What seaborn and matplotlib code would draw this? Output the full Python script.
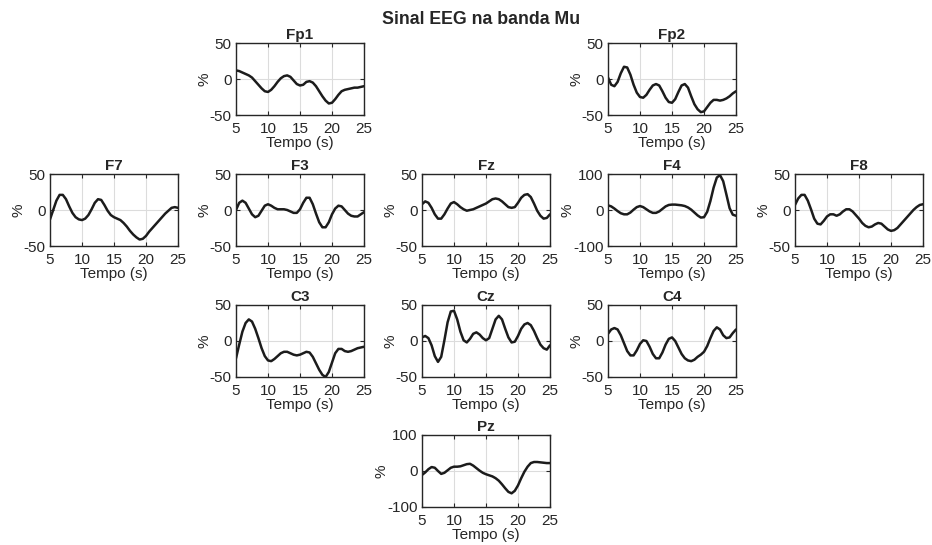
import numpy as np
import pandas as pd
import matplotlib
matplotlib.use("Agg")
import matplotlib.pyplot as plt
import seaborn as sns

# tempo (s), amostras a cada 0.5 s
tempo = np.arange(5.0, 25.01, 0.5)

fp1 = [12, 11, 9, 7, 5, 2, -3, -8, -13, -17, -18, -15, -10, -4, 1, 4, 5, 3, -2, -7, -9,
       -8, -4, -3, -5, -10, -17, -24, -30, -34, -33, -28, -22, -17, -15, -14, -13, -12, -12, -11, -10]
fp2 = [2, -8, -10, -4, 8, 17, 16, 6, -8, -19, -25, -26, -22, -15, -9, -7, -9, -17, -26, -32, -33,
       -28, -18, -9, -7, -12, -24, -35, -42, -46, -45, -39, -33, -29, -29, -30, -29, -27, -24, -20, -17]
f7 = [-13, 0, 13, 21, 21, 15, 5, -4, -10, -13, -14, -12, -7, 1, 10, 15, 14, 7, -1, -7, -10,
      -12, -14, -18, -23, -29, -34, -38, -41, -40, -36, -30, -25, -20, -15, -10, -5, -1, 3, 4, 3]
f3 = [0, 10, 13, 10, 2, -6, -10, -8, -1, 6, 8, 6, 3, 1, 1, 1, 0, -2, -4, -4, 1,
      10, 17, 17, 8, -5, -17, -24, -24, -17, -6, 2, 6, 5, 0, -5, -8, -9, -9, -6, -3]
fz = [8, 12, 10, 3, -6, -12, -12, -6, 2, 9, 11, 8, 4, 1, -1, 0, 1, 3, 5, 7, 9,
      12, 15, 16, 15, 12, 8, 4, 3, 4, 10, 17, 21, 22, 18, 9, -1, -8, -12, -11, -6]
f4 = [13, 10, 4, -3, -9, -12, -12, -7, 1, 8, 11, 8, 2, -4, -8, -8, -4, 3, 10, 14, 15,
      15, 14, 13, 11, 7, 1, -7, -15, -21, -20, -5, 25, 62, 90, 97, 80, 43, 5, -13, -16]
f8 = [7, 16, 21, 21, 13, 1, -12, -19, -20, -15, -9, -6, -6, -8, -6, -2, 1, 1, -2, -7, -12,
      -18, -22, -24, -23, -20, -18, -19, -23, -27, -29, -28, -25, -20, -15, -10, -5, 0, 4, 7, 8]
c3 = [-24, -5, 13, 25, 30, 27, 17, 4, -10, -21, -27, -28, -25, -21, -17, -15, -15, -17, -19, -20, -19,
      -17, -15, -16, -22, -31, -40, -47, -50, -43, -30, -17, -11, -11, -14, -15, -14, -12, -10, -9, -8]
cz = [5, 7, 4, -6, -21, -29, -22, 1, 26, 41, 42, 30, 13, 1, -2, 3, 10, 12, 9, 4, 1,
      4, 17, 30, 35, 30, 17, 5, -2, -1, 7, 17, 23, 25, 22, 14, 4, -5, -10, -12, -6]
c4 = [10, 16, 18, 16, 8, -3, -14, -20, -20, -13, -4, 1, 0, -8, -18, -24, -24, -16, -5, 3, 5,
      0, -9, -18, -24, -27, -28, -26, -22, -19, -15, -7, 4, 14, 19, 16, 8, 4, 5, 11, 16]
pz = [-11, -4, 5, 11, 9, 0, -8, -5, 2, 9, 12, 12, 13, 16, 19, 20, 15, 8, 1, -5, -9,
      -12, -15, -20, -27, -37, -48, -58, -62, -55, -40, -20, -2, 12, 22, 25, 25, 24, 23, 22, 22]

canais = ["Fp1", "Fp2", "F7", "F3", "Fz", "F4", "F8", "C3", "Cz", "C4", "Pz"]
sinais = [fp1, fp2, f7, f3, fz, f4, f8, c3, cz, c4, pz]
limites = [50, 50, 50, 50, 50, 100, 50, 50, 50, 50, 100]
# posicao no mapa (linha, coluna)
grade = [(0, 1), (0, 3), (1, 0), (1, 1), (1, 2), (1, 3), (1, 4), (2, 1), (2, 2), (2, 3), (3, 2)]

sns.set_theme(style="white")
plt.rcParams["font.family"] = ["Liberation Sans", "DejaVu Sans"]
plt.rcParams["axes.unicode_minus"] = False
plt.rcParams["xtick.direction"] = "in"
plt.rcParams["ytick.direction"] = "in"

fig = plt.figure(figsize=(9.32, 5.45), dpi=100)

lefts = [50, 236, 422, 608, 795]
tops = [43, 174, 305, 435]
w, h = 128, 72
cinza = "#262626"

for nome, y, lim, (lin, col) in zip(canais, sinais, limites, grade):
    ax = fig.add_axes([lefts[col] / 932, 1 - (tops[lin] + h) / 545, w / 932, h / 545])
    df = pd.DataFrame({"t": tempo, "v": y})
    sns.lineplot(data=df, x="t", y="v", ax=ax, color="#1c1c1c", linewidth=1.8)
    ax.set_xlim(5, 25)
    ax.set_ylim(-lim, lim)
    ax.set_xticks([5, 10, 15, 20, 25])
    ax.set_yticks([-lim, 0, lim])
    ax.grid(True, color="#dcdcdc", linewidth=0.8)
    ax.tick_params(labelsize=11, length=3, width=0.8, bottom=True, left=True,
                   top=True, right=True, colors=cinza)
    ax.tick_params(axis="x", pad=5)
    ax.tick_params(axis="y", pad=3)
    ax.set_xlabel("Tempo (s)", fontsize=11, labelpad=0, color=cinza)
    ax.set_ylabel("%", fontsize=11, labelpad=-1, color=cinza)
    ax.set_title(nome, fontsize=11, fontweight="bold", pad=3)
    for s in ax.spines.values():
        s.set_color(cinza)
        s.set_linewidth(1.0)

fig.text(0.516, 0.965, "Sinal EEG na banda Mu", ha="center", va="center",
         fontsize=12.8, fontweight="bold")

fig.savefig("out.png", dpi=100)
